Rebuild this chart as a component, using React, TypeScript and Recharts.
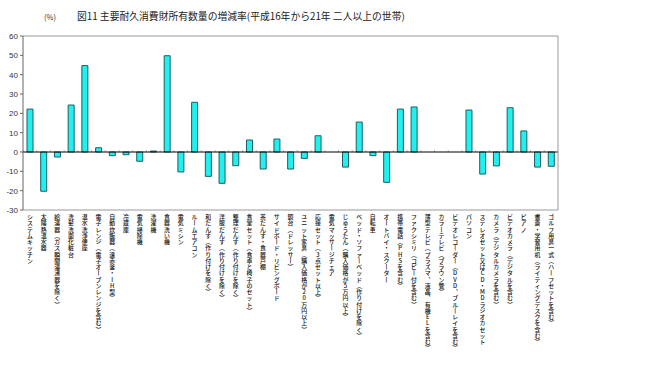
import React from 'react';
import { BarChart, Bar, XAxis, YAxis, ReferenceLine } from 'recharts';

const categories = [
  'システムキッチン',
  '太陽熱温水器',
  '給湯器(ガス瞬間湯沸器を除く)',
  '洗髪洗面化粧台',
  '温水洗浄便座',
  '電子レンジ(電子オーブンレンジを含む)',
  '自動炊飯器(遠赤釜・IH型)',
  '冷蔵庫',
  '電気掃除機',
  '洗濯機',
  '食器洗い機',
  '電気ミシン',
  'ルームエアコン',
  '和だんす(作り付けを除く)',
  '洋服だんす(作り付けを除く)',
  '整理だんす(作り付けを除く)',
  '食堂セット(食卓と椅子のセット)',
  '茶だんす・食器戸棚',
  'サイドボード・リビングボード',
  '鏡台(ドレッサー)',
  'ユニット家具(購入価格が20万円以上)',
  '応接セット(3点セット以上)',
  '電気マッサージチェア',
  'じゅうたん(購入価格が5万円以上)',
  'ベッド・ソファーベッド(作り付けを除く)',
  '自転車',
  'オートバイ・スクーター',
  '携帯電話(PHSを含む)',
  'ファクシミリ(コピー付を含む)',
  '薄型テレビ(プラズマ、液晶、有機ELを含む)',
  'カラーテレビ(ブラウン管)',
  'ビデオレコーダー(DVD、ブルーレイを含む)',
  'パソコン',
  'ステレオセット又はCD・MDラジオカセット',
  'カメラ(デジタルカメラを含む)',
  'ビデオカメラ(デジタルを含む)',
  'ピアノ',
  '書斎・学習用机(ライティングデスクを含む)',
  'ゴルフ用具一式(ハーフセットを含む)',
];

const rates: (number | null)[] = [
  22.2, -20.3, -2.6, 24.3, 44.7, 2.2, -1.9, -1.4, -4.8, 0.5,
  49.8, -10.3, 25.7, -12.6, -16.2, -7.1, 6.2, -8.8, 6.7, -8.8,
  -3.3, 8.4, null, -7.8, 15.5, -1.9, -15.7, 22.2, 23.3, null,
  null, null, 21.7, -11.4, -7.2, 22.9, 10.9, -7.8, -7.4,
];

const yTicks = [-30, -20, -10, 0, 10, 20, 30, 40, 50, 60];

const data = categories.map((name, i) => ({ name, rate: rates[i] }));

const verticalChar: Record<string, string> = {
  '(': '︵',
  ')': '︶',
  'ー': '丨',
  '、': '︑',
};

// one text per label, each character on its own line
const VerticalTick = (props: any) => {
  const { x, y, payload } = props;
  const chars = Array.from(String(payload.value));
  return (
    <text
      x={x}
      y={y - 2}
      textAnchor="middle"
      dominantBaseline="central"
      fontSize={5.9}
      fontFamily="'Noto Sans CJK JP', sans-serif"
      fontWeight={500}
      fill="#111"
    >
      {chars.map((c, i) => (
        <tspan key={i} x={x} dy={i === 0 ? 0 : 6.25}>
          {verticalChar[c] ?? c}
        </tspan>
      ))}
    </text>
  );
};

export default function App() {
  return (
    <div style={{ position: 'absolute', left: 0, top: 0, width: 660, height: 392, background: '#fff' }}>
      <svg width={660} height={40} style={{ position: 'absolute', left: 0, top: 0 }}>
        <text x={44} y={20} fontSize={7.5} fontFamily="'Noto Sans CJK JP', sans-serif" fill="#333">
          (%)
        </text>
        <text x={77} y={20} fontSize={9.8} fontFamily="'Noto Sans CJK JP', sans-serif" fill="#222">
          図11 主要耐久消費財所有数量の増減率(平成16年から21年 二人以上の世帯)
        </text>
      </svg>
      <BarChart
        width={660}
        height={392}
        data={data}
        margin={{ top: 36, right: 101, left: 0, bottom: 42 }}
        barSize={6}
      >
        <XAxis
          dataKey="name"
          height={140}
          axisLine={false}
          tickLine={false}
          interval={0}
          tick={<VerticalTick />}
        />
        <YAxis
          domain={[-30, 60]}
          ticks={yTicks}
          width={23}
          tickSize={3}
          tickMargin={2}
          axisLine={{ stroke: '#666' }}
          tickLine={{ stroke: '#666' }}
          tick={{ fontSize: 8, fill: '#333', fontFamily: 'Arial, sans-serif' }}
          interval={0}
        />
        <YAxis
          yAxisId="r"
          orientation="right"
          width={1}
          tick={false}
          tickLine={false}
          axisLine={{ stroke: '#999' }}
        />
        <ReferenceLine y={60} stroke="#999" />
        <ReferenceLine y={-30} stroke="#999" />
        {categories.map((c) => (
          <ReferenceLine
            key={c}
            position="start"
            stroke="#bbb"
            segment={[
              { x: c, y: 0 },
              { x: c, y: 1 },
            ]}
          />
        ))}
        <ReferenceLine y={0} stroke="#000" />
        <Bar dataKey="rate" fill="#22f0f0" stroke="#1f5f5f" strokeWidth={1} isAnimationActive={false} />
      </BarChart>
    </div>
  );
}
